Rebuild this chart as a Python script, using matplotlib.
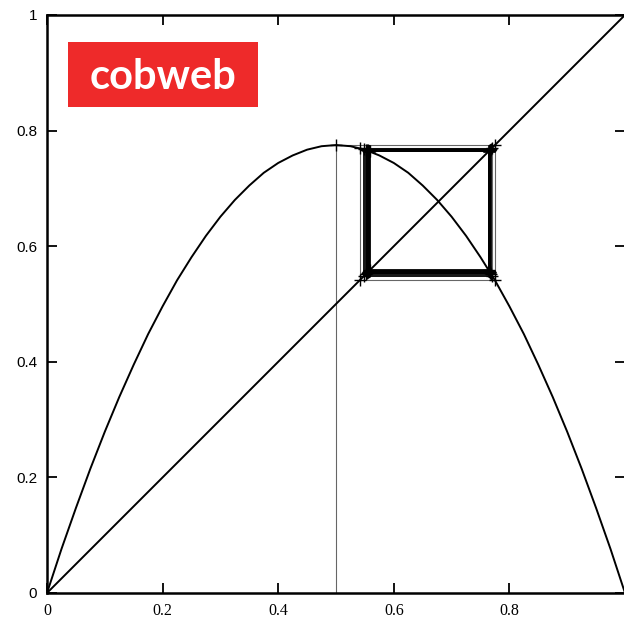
import matplotlib
matplotlib.use("Agg")
from matplotlib import pyplot as plt
from matplotlib.patches import Rectangle

# logistic map curve
curve_x = [0.0, 0.025, 0.05, 0.075, 0.1, 0.125, 0.15, 0.175, 0.2, 0.225, 0.25,
           0.275, 0.3, 0.325, 0.35, 0.375, 0.4, 0.425, 0.45, 0.475, 0.5,
           0.525, 0.55, 0.575, 0.6, 0.625, 0.65, 0.675, 0.7, 0.725, 0.75,
           0.775, 0.8, 0.825, 0.85, 0.875, 0.9, 0.925, 0.95, 0.975, 1.0]
curve_y = [0.0, 0.076, 0.147, 0.215, 0.279, 0.339, 0.395, 0.448, 0.496, 0.541, 0.581,
           0.618, 0.651, 0.680, 0.705, 0.727, 0.744, 0.757, 0.767, 0.773, 0.775,
           0.773, 0.767, 0.757, 0.744, 0.727, 0.705, 0.680, 0.651, 0.618, 0.581,
           0.541, 0.496, 0.448, 0.395, 0.339, 0.279, 0.215, 0.147, 0.076, 0.0]

# identity line
diag_x = [0.0, 1.0]
diag_y = [0.0, 1.0]

# iterates of the cobweb, starting at 0.5
iterates = [0.5, 0.775, 0.541, 0.770, 0.549, 0.7675, 0.5525, 0.7665, 0.5543, 0.766,
            0.5554, 0.7657, 0.5561, 0.7654, 0.5566, 0.7652, 0.5570, 0.7650, 0.5573, 0.7649,
            0.5575, 0.7648, 0.5577, 0.7647, 0.5578, 0.7647, 0.5579, 0.7646, 0.5580, 0.7646]

xticks = [0, 0.2, 0.4, 0.6, 0.8]
xticklabels = ["0", "0.2", "0.4", "0.6", "0.8"]
yticks = [0, 0.2, 0.4, 0.6, 0.8, 1.0]
yticklabels = ["0", "0.2", "0.4", "0.6", "0.8", "1"]

# build the cobweb path
web_x = [iterates[0]]
web_y = [0.0]
for i in range(len(iterates) - 1):
    web_x.append(iterates[i])
    web_y.append(iterates[i + 1])
    web_x.append(iterates[i + 1])
    web_y.append(iterates[i + 1])

fig = plt.figure(figsize=(6.24, 6.21), dpi=100)
ax = fig.add_axes([47 / 624, 28 / 621, 578 / 624, 578 / 621])

ax.plot(curve_x, curve_y, color="black", linewidth=1.4)
ax.plot(diag_x, diag_y, color="black", linewidth=1.4)
ax.plot(web_x[:8], web_y[:8], color="black", linewidth=0.8, alpha=0.6)
ax.plot(web_x[7:], web_y[7:], color="black", linewidth=1.3)
ax.plot(web_x[1:], web_y[1:], linestyle="none", marker="+", markersize=9,
        markeredgewidth=1.0, color="black")

ax.set_xlim(0, 1)
ax.set_ylim(0, 1)
ax.set_xticks(xticks)
ax.set_xticklabels(xticklabels, family="Liberation Serif", fontsize=11.5)
ax.set_yticks(yticks)
ax.set_yticklabels(yticklabels, family="Liberation Sans", fontsize=11)
ax.tick_params(direction="in", length=7, width=1.3, top=True, right=True, pad=7)
for s in ax.spines.values():
    s.set_linewidth(1.8)

# red label box
ax.add_patch(Rectangle((0.036, 0.841), 0.329, 0.112, transform=ax.transAxes,
                       facecolor="#ee2a2a", edgecolor="none", zorder=5))
ax.text(0.2005, 0.892, "cobweb", transform=ax.transAxes,
        fontsize=30, fontweight="bold", color="white", family="Lato",
        va="center", ha="center", zorder=6)

fig.savefig("out.png", dpi=100)
